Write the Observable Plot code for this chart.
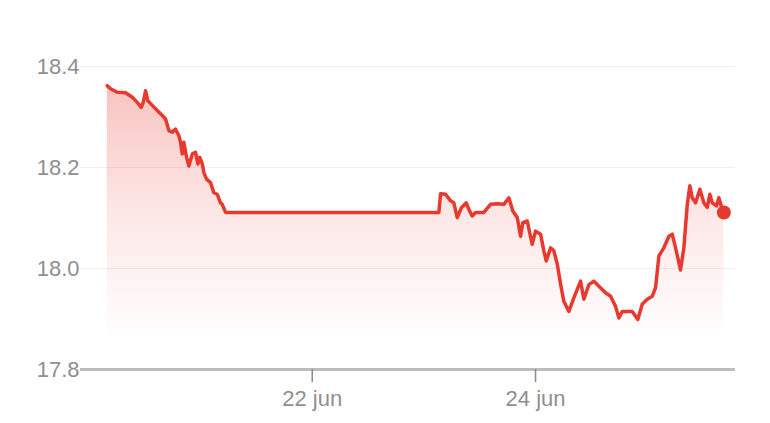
<!DOCTYPE html>
<html>
<head>
<meta charset="utf-8">
<script src="https://cdn.jsdelivr.net/npm/d3@7"></script>
<script src="https://cdn.jsdelivr.net/npm/@observablehq/plot@0.6"></script>
<style>
  html, body { margin: 0; padding: 0; background: #fff; }
  #chart svg { display: block; }
</style>
</head>
<body>
<div id="chart"></div>
<script>
// ---- data ----
const times = [
  "2024-06-20T03:56","2024-06-20T04:38","2024-06-20T06:05","2024-06-20T07:52","2024-06-20T09:19",
  "2024-06-20T10:23","2024-06-20T11:14","2024-06-20T11:40","2024-06-20T12:10","2024-06-20T12:40",
  "2024-06-20T13:37","2024-06-20T14:41","2024-06-20T15:46","2024-06-20T16:28","2024-06-20T17:11",
  "2024-06-20T17:55","2024-06-20T18:37","2024-06-20T19:20","2024-06-20T19:41","2024-06-20T20:04",
  "2024-06-20T20:24","2024-06-20T20:59","2024-06-20T21:29","2024-06-20T22:13","2024-06-20T22:55",
  "2024-06-20T23:25","2024-06-20T23:50","2024-06-21T00:22","2024-06-21T00:42","2024-06-21T01:17",
  "2024-06-21T02:08","2024-06-21T02:51","2024-06-21T03:35","2024-06-21T04:17","2024-06-21T04:39",
  "2024-06-21T05:22","2024-06-23T03:13","2024-06-23T03:35","2024-06-23T04:40","2024-06-23T05:44",
  "2024-06-23T06:26","2024-06-23T07:10","2024-06-23T08:06","2024-06-23T09:06","2024-06-23T09:40",
  "2024-06-23T10:23","2024-06-23T11:06","2024-06-23T12:53","2024-06-23T14:20","2024-06-23T15:46",
  "2024-06-23T17:11","2024-06-23T18:16","2024-06-23T19:07","2024-06-23T20:04","2024-06-23T20:47",
  "2024-06-23T21:16","2024-06-23T22:13","2024-06-23T23:17","2024-06-24T00:00","2024-06-24T01:05",
  "2024-06-24T01:47","2024-06-24T02:18","2024-06-24T03:14","2024-06-24T03:56","2024-06-24T04:40",
  "2024-06-24T05:23","2024-06-24T06:05","2024-06-24T07:10","2024-06-24T08:14","2024-06-24T09:41",
  "2024-06-24T10:23","2024-06-24T11:28","2024-06-24T12:32","2024-06-24T13:37","2024-06-24T15:03",
  "2024-06-24T16:08","2024-06-24T17:12","2024-06-24T17:55","2024-06-24T18:38","2024-06-24T20:47",
  "2024-06-24T21:59","2024-06-24T22:56","2024-06-25T00:01","2024-06-25T01:05","2024-06-25T01:48",
  "2024-06-25T02:31","2024-06-25T03:35","2024-06-25T04:40","2024-06-25T05:23","2024-06-25T06:06",
  "2024-06-25T07:10","2024-06-25T07:53","2024-06-25T08:37","2024-06-25T09:10","2024-06-25T09:41",
  "2024-06-25T10:24","2024-06-25T11:19","2024-06-25T12:11","2024-06-25T12:55","2024-06-25T13:28",
  "2024-06-25T13:59","2024-06-25T14:55","2024-06-25T15:24","2024-06-25T16:08","2024-06-25T16:29"
];
const rates = [
  18.362,18.356,18.349,18.348,18.339,
  18.329,18.319,18.329,18.352,18.332,
  18.323,18.313,18.303,18.296,18.273,
  18.270,18.276,18.263,18.250,18.227,
  18.250,18.220,18.203,18.227,18.230,
  18.207,18.220,18.207,18.190,18.177,
  18.170,18.150,18.147,18.130,18.127,
  18.111,18.111,18.148,18.147,18.134,
  18.130,18.101,18.121,18.130,18.117,
  18.104,18.111,18.111,18.127,18.128,
  18.127,18.140,18.114,18.101,18.064,
  18.091,18.094,18.048,18.074,18.068,
  18.035,18.015,18.041,18.035,18.009,
  17.969,17.935,17.915,17.942,17.975,
  17.939,17.968,17.975,17.965,17.952,
  17.945,17.925,17.902,17.915,17.915,
  17.899,17.929,17.939,17.945,17.962,
  18.025,18.041,18.064,18.068,18.041,
  17.997,18.041,18.127,18.164,18.140,
  18.130,18.157,18.130,18.121,18.147,
  18.130,18.124,18.140,18.117,18.111
];
const yTicks = [17.8, 18.0, 18.2, 18.4];
const xTickDates = ["2024-06-22T00:00", "2024-06-24T00:00"];
const xTickLabels = ["22 jun", "24 jun"];
const xDomain = ["2024-06-19T22:11", "2024-06-25T18:59"];

// ---- build ----
const utc = s => new Date(s + "Z");
const data = times.map((t, i) => ({date: utc(t), rate: rates[i]}));
const last = data[data.length - 1];
const tickDates = xTickDates.map(utc);
const labelOf = new Map(tickDates.map((d, i) => [+d, xTickLabels[i]]));

const RED = "#e8392e";

const gradientDefs = () => {
  const ns = "http://www.w3.org/2000/svg";
  const defs = document.createElementNS(ns, "defs");
  const lg = document.createElementNS(ns, "linearGradient");
  lg.setAttribute("id", "areaFade");
  lg.setAttribute("x1", "0"); lg.setAttribute("x2", "0");
  lg.setAttribute("y1", "0"); lg.setAttribute("y2", "1");
  [[0, 0.30], [0.45, 0.12], [0.9, 0.0]].forEach(([o, a]) => {
    const s = document.createElementNS(ns, "stop");
    s.setAttribute("offset", o);
    s.setAttribute("stop-color", RED);
    s.setAttribute("stop-opacity", a);
    lg.appendChild(s);
  });
  defs.appendChild(lg);
  return defs;
};

const chart = Plot.plot({
  width: 770,
  height: 423,
  marginLeft: 80,
  marginRight: 35,
  marginTop: 66,
  marginBottom: 54,
  style: {fontFamily: "'Liberation Sans', Arial, sans-serif", fontSize: "22px", color: "#8f8f8f", background: "#fff"},
  x: {type: "utc", domain: xDomain.map(utc)},
  y: {domain: [17.8, 18.4]},
  marks: [
    gradientDefs,
    Plot.gridY(yTicks, {stroke: "#efefef", strokeOpacity: 1, strokeWidth: 1}),
    Plot.areaY(data, {x: "date", y1: 17.8, y2: "rate", fill: "url(#areaFade)"}),
    Plot.ruleY([17.8], {stroke: "#bcbcbc", strokeWidth: 3}),
    Plot.axisY({ticks: yTicks, tickFormat: d => d.toFixed(1), tickSize: 0, tickPadding: 1, fontSize: 22, label: null}),
    Plot.axisX({ticks: tickDates, tickFormat: d => labelOf.get(+d), tickSize: 13, tickPadding: 8, fontSize: 22, stroke: "#8a8a8a", strokeWidth: 1.5, label: null}),
    Plot.lineY(data, {x: "date", y: "rate", stroke: RED, strokeWidth: 3.5, strokeLinejoin: "round"}),
    Plot.dot([last], {x: "date", y: "rate", r: 7, fill: RED})
  ]
});
document.getElementById("chart").appendChild(chart);
</script>
</body>
</html>
